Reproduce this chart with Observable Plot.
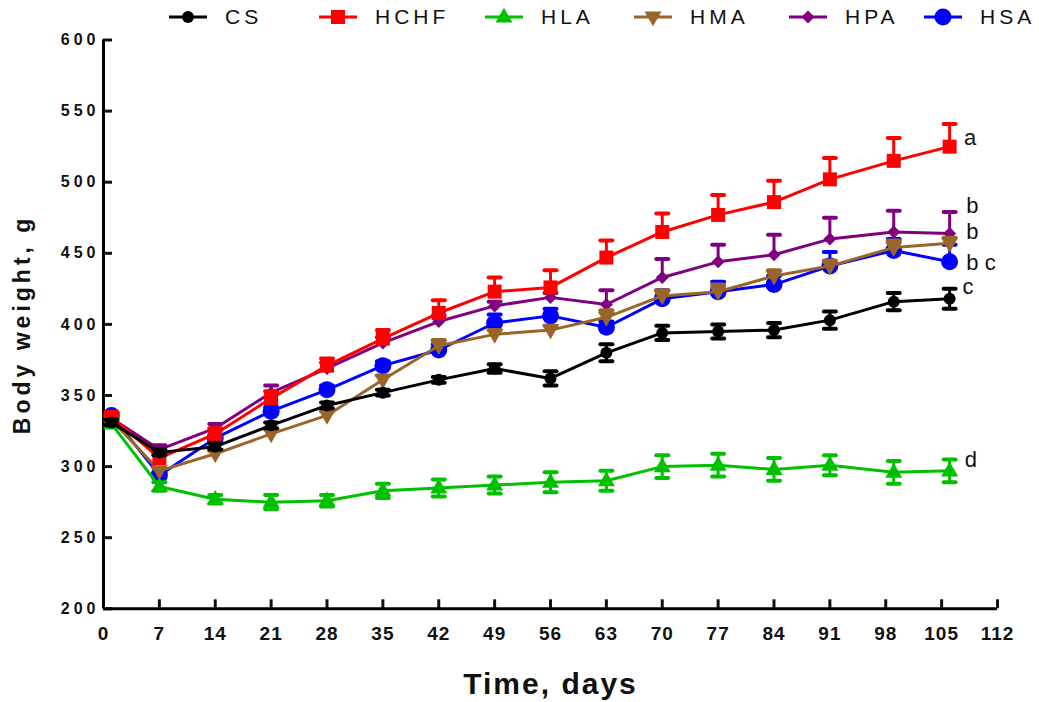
<!DOCTYPE html>
<html>
<head>
<meta charset="utf-8">
<script src="https://cdn.jsdelivr.net/npm/d3@7"></script>
<script src="https://cdn.jsdelivr.net/npm/@observablehq/plot@0.6"></script>
<style>
  body { margin: 0; background: #fff; font-family: "Liberation Sans", Arial, sans-serif; }
  #legend { position: relative; width: 1039px; height: 30px; }
  .item { position: absolute; top: 6px; display: flex; align-items: center; height: 22px; }
  .item span { font-size: 21px; letter-spacing: 4px; margin-left: 18px; color: #111; line-height: 22px; }
  #chart svg { overflow: visible; }
  #chart g[aria-label="y-axis tick label"] text { font: bold 16px "Liberation Sans", Arial, sans-serif; letter-spacing: 4px; fill: #111; }
  #chart g[aria-label="x-axis tick label"] text { font: bold 19px "Liberation Sans", Arial, sans-serif; letter-spacing: 1px; fill: #111; }
</style>
</head>
<body>
<div id="legend"></div>
<div id="chart"></div>
<script>
// ---------------- data ----------------
const days = [1, 7, 14, 21, 28, 35, 42, 49, 56, 63, 70, 77, 84, 91, 99, 106];
const series = ["CS", "HCHF", "HLA", "HMA", "HPA", "HSA"];

const csMean   = [331, 310, 314, 329, 343, 352, 361, 369, 362, 380, 394, 395, 396, 403, 416, 418];
const csSE     = [2, 2, 2, 2, 2, 2, 2, 3, 5, 6, 5, 5, 5, 6, 6, 7];
const hchfMean = [335, 306, 323, 348, 371, 390, 408, 423, 426, 447, 465, 477, 486, 502, 515, 525];
const hchfSE   = [3, 3, 4, 5, 5, 6, 9, 10, 12, 12, 13, 14, 15, 15, 16, 16];
const hlaMean  = [330, 286, 277, 275, 276, 283, 285, 287, 289, 290, 300, 301, 298, 301, 296, 297];
const hlaSE    = [2, 3, 3, 5, 4, 5, 6, 6, 7, 7, 8, 8, 8, 7, 8, 8];
const hmaMean  = [333, 297, 309, 323, 336, 361, 385, 393, 396, 405, 420, 423, 434, 441, 454, 457];
const hmaSE    = [2, 2, 2, 3, 3, 3, 4, 3, 3, 5, 4, 5, 4, 4, 5, 4];
const hpaMean  = [334, 312, 327, 352, 369, 387, 402, 413, 419, 414, 433, 444, 449, 460, 465, 464];
const hpaSE    = [2, 3, 3, 5, 4, 4, 4, 3, 3, 10, 13, 12, 14, 15, 15, 15];
const hsaMean  = [336, 294, 320, 339, 354, 371, 382, 401, 406, 398, 418, 423, 428, 441, 452, 444];
const hsaSE    = [2, 2, 2, 3, 3, 3, 4, 6, 5, 4, 6, 7, 6, 10, 8, 12];

const xTicks = [0, 7, 14, 21, 28, 35, 42, 49, 56, 63, 70, 77, 84, 91, 98, 105, 112];
const yTicks = [200, 250, 300, 350, 400, 450, 500, 550, 600];

const xTitle = "Time, days";
const yTitle = "Body weight, g";

const sigLabels = ["a", "b", "b", "b c", "c", "d"];
const sigX      = [107.8, 108.1, 108.1, 108.1, 107.6, 107.9];
const sigY      = [531, 483, 465, 443, 426, 305];

// ---------------- styles ----------------
const means = [csMean, hchfMean, hlaMean, hmaMean, hpaMean, hsaMean];
const ses = [csSE, hchfSE, hlaSE, hmaSE, hpaSE, hsaSE];
const colors = ["#000000", "#FF0000", "#00C000", "#99652A", "#800080", "#0000FF"];
const errMode = ["both", "up", "both", "up", "up", "up"];

const rad = (size) => Math.sqrt(size / Math.PI);
const shapes = {
  circle: { draw(c, s) { const r = rad(s); c.moveTo(r, 0); c.arc(0, 0, r, 0, 2 * Math.PI); } },
  square: { draw(c, s) { const r = rad(s); c.moveTo(-r, -r); c.lineTo(r, -r); c.lineTo(r, r); c.lineTo(-r, r); c.closePath(); } },
  triUp: { draw(c, s) { const r = rad(s); c.moveTo(0, -r * 1.1); c.lineTo(r, r * 0.65); c.lineTo(-r, r * 0.65); c.closePath(); } },
  triDown: { draw(c, s) { const r = rad(s); c.moveTo(0, r * 1.1); c.lineTo(r, -r * 0.65); c.lineTo(-r, -r * 0.65); c.closePath(); } },
  diamond: { draw(c, s) { const r = rad(s); c.moveTo(0, -r); c.lineTo(r, 0); c.lineTo(0, r); c.lineTo(-r, 0); c.closePath(); } },
  cap: { draw(c, s) { const r = rad(s); c.moveTo(-r, 0); c.lineTo(r, 0); } }
};
const symbolOf = [shapes.circle, shapes.square, shapes.triUp, shapes.triDown, shapes.diamond, shapes.circle];
const sizeOf = [6, 7, 8.5, 8.5, 6.5, 8.5];

// ---------------- legend ----------------
const legendLeft = [169, 319, 485, 634, 789, 924];
const legend = document.getElementById("legend");
series.forEach((s, i) => {
  const item = document.createElement("div");
  item.className = "item";
  item.style.left = legendLeft[i] + "px";
  const p = d3.path();
  symbolOf[i].draw(p, Math.PI * sizeOf[i] * sizeOf[i]);
  item.innerHTML =
    `<svg width="38" height="22" viewBox="-19 -11 38 22">` +
    `<line x1="-19" x2="19" y1="0" y2="0" stroke="${colors[i]}" stroke-width="3"/>` +
    `<path d="${p.toString()}" fill="${colors[i]}"/></svg><span>${s}</span>`;
  legend.appendChild(item);
});

// ---------------- chart ----------------
const rowsOf = (i) => days.map((d, j) => ({ series: series[i], day: d, mean: means[i][j], se: ses[i][j] }));

const seriesMarks = [];
for (let i = series.length - 1; i >= 0; i--) {
  const rows = rowsOf(i);
  const both = errMode[i] === "both";
  seriesMarks.push(
    Plot.line(rows, { x: "day", y: "mean", stroke: colors[i], strokeWidth: 3 }),
    Plot.ruleX(rows, { x: "day", y1: (d) => (both ? d.mean - d.se : d.mean), y2: (d) => d.mean + d.se, stroke: colors[i], strokeWidth: 3 }),
    Plot.dot(rows, { x: "day", y: (d) => d.mean + d.se, symbol: shapes.cap, r: 6, stroke: colors[i], strokeWidth: 4, strokeLinecap: "round", fill: "none" })
  );
  if (both) {
    seriesMarks.push(
      Plot.dot(rows, { x: "day", y: (d) => d.mean - d.se, symbol: shapes.cap, r: 6, stroke: colors[i], strokeWidth: 4, strokeLinecap: "round", fill: "none" })
    );
  }
  seriesMarks.push(
    Plot.dot(rows, { x: "day", y: "mean", symbol: symbolOf[i], r: sizeOf[i], fill: colors[i], stroke: "none" })
  );
}

const chart = Plot.plot({
  width: 1039,
  height: 672,
  marginLeft: 103,
  marginRight: 42,
  marginTop: 9.5,
  marginBottom: 93.7,
  style: { background: "#fff", color: "#111" },
  x: { domain: [0, 112] },
  y: { domain: [200, 600] },
  marks: [
    Plot.axisY({ ticks: yTicks, tickSize: -9, strokeWidth: 3, tickFormat: () => "", label: null }),
    Plot.axisX({ ticks: xTicks, tickSize: -9, strokeWidth: 3, tickFormat: () => "", label: null }),
    Plot.axisY({ ticks: yTicks, tickSize: 0, tickPadding: 4, label: null }),
    Plot.axisX({ ticks: xTicks, tickSize: 0, tickPadding: 18, label: null }),
    Plot.text([yTitle], { frameAnchor: "left", rotate: -90, dx: -81, text: (d) => d, textAnchor: "middle", lineAnchor: "middle", fontSize: 23, fontWeight: "bold", fontFamily: "Liberation Sans, Arial, sans-serif", fill: "#111" }),
    Plot.text([xTitle], { frameAnchor: "bottom", dy: 76, text: (d) => d, textAnchor: "middle", lineAnchor: "middle", fontSize: 30, fontWeight: "bold", fontFamily: "Liberation Sans, Arial, sans-serif", fill: "#111" }),
    Plot.ruleX([0], { stroke: "#000", strokeWidth: 3 }),
    Plot.ruleY([200], { stroke: "#000", strokeWidth: 3 }),
    ...seriesMarks,
    Plot.text(sigLabels, { x: sigX, y: sigY, text: (d) => d, textAnchor: "start", fontSize: 22, fontFamily: "Liberation Sans, Arial, sans-serif", fill: "#111" })
  ]
});
document.getElementById("chart").appendChild(chart);

// letter spacing for the axis titles
d3.select(chart).selectAll("text")
  .filter(function () { return this.textContent === xTitle; })
  .style("letter-spacing", "2px");
d3.select(chart).selectAll("text")
  .filter(function () { return this.textContent === yTitle; })
  .style("letter-spacing", "4px");
</script>
</body>
</html>
